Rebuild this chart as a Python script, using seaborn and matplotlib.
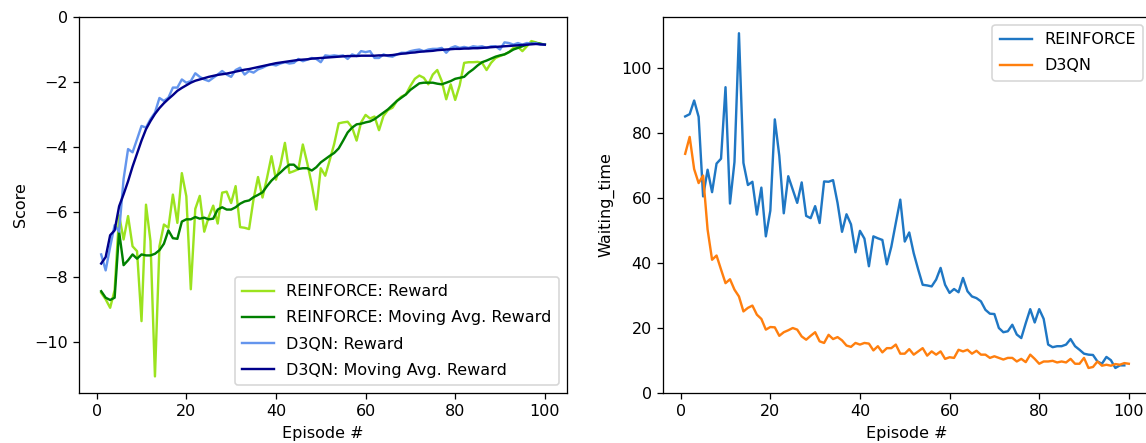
import numpy as np
import pandas as pd
import matplotlib
matplotlib.use("Agg")
import matplotlib.pyplot as plt
import seaborn as sns

# ---- episode scores ----
episodes = list(range(1, 101))

reinforce_reward = [
    -8.48, -8.68, -8.94, -8.40, -6.10, -6.84, -6.12, -7.05, -7.20, -9.35,
    -5.77, -6.89, -11.05, -7.05, -6.38, -6.48, -5.46, -6.33, -4.80, -5.51,
    -8.37, -5.90, -5.50, -6.60, -6.15, -5.80, -6.35, -5.40, -5.37, -5.72,
    -5.20, -6.46, -6.48, -6.52, -5.60, -4.92, -5.55, -4.95, -4.28, -5.00,
    -4.55, -3.87, -4.79, -4.74, -4.68, -3.92, -4.50, -5.15, -5.92, -4.65,
    -4.88, -4.40, -3.90, -3.27, -3.24, -3.22, -3.40, -3.80, -3.24, -3.01,
    -3.12, -3.06, -3.48, -3.04, -2.86, -2.79, -2.58, -2.45, -2.38, -2.12,
    -1.90, -1.80, -1.87, -2.07, -1.77, -1.63, -1.97, -2.53, -2.07, -2.55,
    -2.10, -1.41, -1.39, -1.39, -1.38, -1.41, -1.63, -1.41, -1.26, -1.20,
    -1.15, -1.08, -0.95, -0.92, -1.05, -0.90, -0.74, -0.78, -0.83, -0.85,
]

reinforce_avg = [
    -8.43, -8.63, -8.70, -8.63, -6.60, -7.63, -7.48, -7.30, -7.43, -7.30,
    -7.33, -7.33, -7.28, -7.17, -6.97, -6.56, -6.80, -6.82, -6.29, -6.22,
    -6.22, -6.15, -6.20, -6.17, -6.22, -6.20, -5.92, -5.85, -5.92, -5.92,
    -5.85, -5.74, -5.67, -5.64, -5.54, -5.47, -5.39, -5.20, -5.03, -4.90,
    -4.78, -4.65, -4.54, -4.54, -4.67, -4.65, -4.65, -4.72, -4.62, -4.47,
    -4.37, -4.27, -4.18, -4.04, -3.80, -3.55, -3.40, -3.30, -3.28, -3.24,
    -3.21, -3.14, -3.04, -2.94, -2.84, -2.71, -2.58, -2.48, -2.38, -2.24,
    -2.14, -2.04, -2.02, -2.02, -2.02, -2.05, -2.07, -2.02, -1.97, -1.90,
    -1.87, -1.84, -1.71, -1.61, -1.49, -1.39, -1.34, -1.28, -1.22, -1.18,
    -1.15, -1.08, -1.00, -0.95, -0.90, -0.85, -0.80, -0.80, -0.82, -0.85,
]

d3qn_reward = [
    -7.30, -7.79, -7.07, -6.40, -6.60, -4.98, -4.06, -4.16, -3.76, -3.35,
    -3.40, -3.14, -2.94, -2.49, -2.58, -2.48, -2.17, -2.17, -1.92, -2.02,
    -1.97, -1.73, -1.84, -1.92, -1.97, -1.87, -1.77, -1.66, -1.77, -1.84,
    -1.63, -1.56, -1.77, -1.66, -1.71, -1.61, -1.56, -1.49, -1.46, -1.49,
    -1.43, -1.39, -1.43, -1.41, -1.29, -1.36, -1.31, -1.26, -1.29, -1.39,
    -1.18, -1.20, -1.18, -1.20, -1.18, -1.29, -1.15, -1.20, -1.05, -1.08,
    -1.05, -1.26, -1.26, -1.15, -1.20, -1.22, -1.15, -1.10, -1.10, -1.05,
    -1.02, -1.00, -1.05, -1.00, -0.98, -0.98, -0.95, -1.10, -0.95, -0.90,
    -0.95, -0.92, -0.95, -0.90, -0.92, -0.90, -0.95, -0.90, -0.90, -1.00,
    -0.78, -0.80, -0.85, -0.80, -0.85, -0.80, -0.82, -0.80, -0.85, -0.85,
]

d3qn_avg = [
    -7.58, -7.38, -6.71, -6.56, -5.82, -5.45, -5.05, -4.60, -4.20, -3.80,
    -3.45, -3.20, -2.98, -2.80, -2.65, -2.52, -2.40, -2.27, -2.18, -2.10,
    -2.02, -1.96, -1.92, -1.88, -1.84, -1.81, -1.78, -1.76, -1.74, -1.71,
    -1.68, -1.65, -1.62, -1.60, -1.57, -1.54, -1.51, -1.48, -1.45, -1.42,
    -1.40, -1.38, -1.36, -1.34, -1.32, -1.31, -1.30, -1.28, -1.27, -1.26,
    -1.25, -1.24, -1.23, -1.22, -1.21, -1.20, -1.20, -1.20, -1.19, -1.19,
    -1.19, -1.19, -1.18, -1.18, -1.18, -1.17, -1.15, -1.13, -1.12, -1.10,
    -1.09, -1.07, -1.06, -1.05, -1.04, -1.02, -1.01, -1.00, -0.99, -0.98,
    -0.98, -0.97, -0.97, -0.96, -0.96, -0.95, -0.94, -0.93, -0.92, -0.91,
    -0.90, -0.89, -0.88, -0.87, -0.86, -0.85, -0.84, -0.83, -0.84, -0.85,
]

# ---- waiting times ----
reinforce_wait = [
    85.1, 85.8, 90.0, 85.0, 60.5, 68.7, 61.8, 70.6, 72.1, 94.1,
    58.3, 71.1, 110.7, 70.8, 64.0, 65.0, 54.9, 63.2, 48.2, 56.1,
    84.2, 73.0, 55.3, 66.7, 62.6, 58.5, 64.8, 54.5, 53.8, 57.5,
    52.3, 65.1, 65.0, 65.5, 58.5, 49.6, 55.0, 51.9, 43.3, 49.9,
    47.5, 39.0, 48.2, 47.6, 47.1, 39.6, 45.0, 52.3, 59.5, 46.6,
    49.4, 43.0, 38.0, 33.3, 33.1, 32.8, 34.9, 38.5, 33.3, 30.8,
    32.0, 31.0, 35.4, 31.3, 29.7, 29.2, 28.2, 25.6, 24.4, 24.3,
    20.0, 18.7, 19.0, 21.0, 18.0, 16.9, 21.5, 25.8, 21.7, 25.8,
    22.8, 14.9, 14.1, 14.4, 14.4, 14.9, 16.6, 14.4, 13.3, 12.1,
    11.8, 11.7, 9.7, 9.0, 11.1, 10.1, 7.7, 8.5, 8.5,
]

d3qn_wait = [
    73.6, 78.8, 68.9, 64.6, 66.9, 50.3, 41.0, 42.3, 38.0, 33.8,
    35.0, 31.8, 29.7, 25.1, 26.2, 26.9, 24.1, 22.8, 19.5, 20.3,
    20.2, 17.6, 18.7, 19.3, 20.0, 19.5, 17.4, 16.4, 17.6, 18.7,
    15.9, 15.4, 17.9, 16.6, 17.2, 16.2, 14.6, 14.2, 15.4, 14.9,
    15.4, 15.2, 13.1, 14.4, 12.5, 13.8, 13.8, 14.9, 12.1, 12.1,
    13.5, 11.8, 12.8, 13.8, 11.5, 12.8, 11.8, 12.8, 10.5, 11.0,
    10.8, 13.3, 12.8, 13.3, 12.1, 13.0, 11.8, 11.8, 10.8, 11.3,
    10.8, 10.3, 10.8, 10.8, 9.7, 10.5, 9.5, 11.8, 10.5, 9.0,
    9.7, 9.7, 9.9, 9.4, 9.7, 9.4, 10.5, 9.0, 9.0, 10.8,
    7.7, 8.0, 9.7, 8.4, 8.7, 8.4, 8.9, 8.7, 9.2, 9.0,
]

x_ticks = [0, 20, 40, 60, 80, 100]
score_ticks = [0, -2, -4, -6, -8, -10]
wait_ticks = [0, 20, 40, 60, 80, 100]

score_df = pd.DataFrame({
    "episode": episodes,
    "REINFORCE: Reward": reinforce_reward,
    "REINFORCE: Moving Avg. Reward": reinforce_avg,
    "D3QN: Reward": d3qn_reward,
    "D3QN: Moving Avg. Reward": d3qn_avg,
})
score_colors = {
    "REINFORCE: Reward": "#9be31e",
    "REINFORCE: Moving Avg. Reward": "#008000",
    "D3QN: Reward": "#6495ed",
    "D3QN: Moving Avg. Reward": "#00008b",
}

W, H, DPI = 1146, 443, 115
fig = plt.figure(figsize=(W / DPI, H / DPI), dpi=DPI)
ax1 = fig.add_axes([79 / W, 50 / H, 488 / W, 376 / H])
ax2 = fig.add_axes([663 / W, 50 / H, 488 / W, 376 / H])

legend_kw = dict(labelspacing=0.7, borderpad=0.45)

for name, color in score_colors.items():
    sns.lineplot(data=score_df, x="episode", y=name, ax=ax1, color=color,
                 label=name, linewidth=1.5)
ax1.set_ylim(-11.56, 0)
ax1.set_xticks(x_ticks)
ax1.set_yticks(score_ticks)
ax1.set_xlabel("Episode #", labelpad=4.5)
ax1.set_ylabel("Score")
ax1.legend(loc="lower right", **legend_kw)

sns.lineplot(x=episodes[:len(reinforce_wait)], y=reinforce_wait, ax=ax2,
             color="#1f77c4", label="REINFORCE", linewidth=1.5)
sns.lineplot(x=episodes, y=d3qn_wait, ax=ax2, color="#ff7f0e",
             label="D3QN", linewidth=1.5)
ax2.set_ylim(0, 115.7)
ax2.set_xticks(x_ticks)
ax2.set_yticks(wait_ticks)
ax2.set_xlabel("Episode #", labelpad=4.5)
ax2.set_ylabel("Waiting_time")
ax2.legend(loc="upper right", **legend_kw)

fig.savefig("out.png", dpi=DPI)
